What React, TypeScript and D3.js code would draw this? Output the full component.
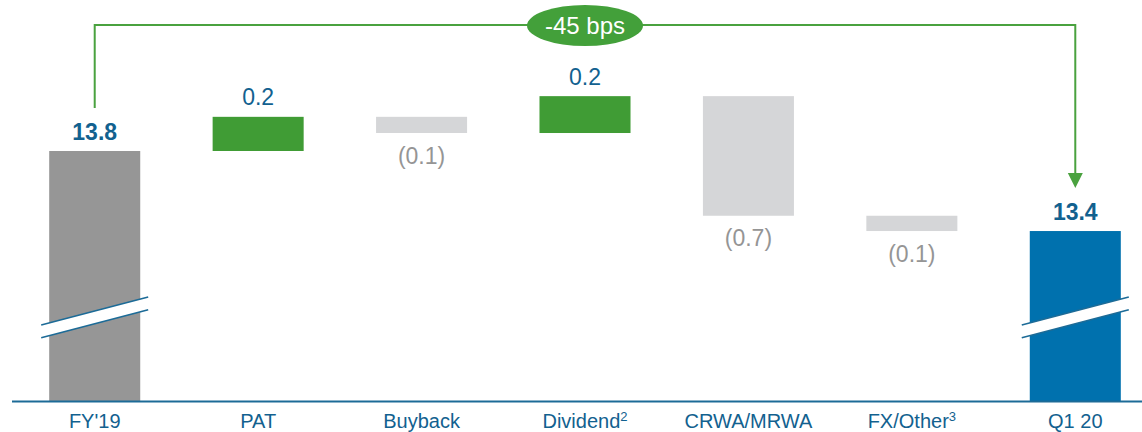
import React from 'react';
import * as d3 from 'd3';

// categories along the x axis (superscript footnote marks kept apart)
const categories = ["FY'19", 'PAT', 'Buyback', 'Dividend', 'CRWA/MRWA', 'FX/Other', 'Q1 20'];
const footnotes = ['', '', '', '2', '', '3', ''];

// CET1 ratio (%) start / end, and the movements in between
const startValue = 13.83;
const endValue = 13.385;
const deltas = [0.19, -0.09, 0.205, -0.665, -0.085];
const valueLabels = ['13.8', '0.2', '(0.1)', '0.2', '(0.7)', '(0.1)', '13.4'];
const changeLabel = '-45 bps';

// visible part of the (broken) y axis
const axisFloor = 12.44;
const breakValue = 12.94;

const W = 1142;
const H = 432;

const BLUE_TEXT = '#12618f';
const AXIS = '#1c6b97';

const App = () => {
  const x = d3
    .scaleBand()
    .domain(categories)
    .range([13, 1157])
    .paddingInner(0.443)
    .paddingOuter(0.2215);

  const y = d3.scaleLinear().domain([axisFloor, startValue]).range([401, 151]);
  const bw = x.bandwidth();

  // build waterfall segments
  const bars = [];
  bars.push({ cat: categories[0], y0: axisFloor, y1: startValue, kind: 'start' });
  let run = startValue;
  deltas.forEach((d, i) => {
    bars.push({ cat: categories[i + 1], y0: run, y1: run + d, kind: d >= 0 ? 'up' : 'down' });
    run += d;
  });
  bars.push({ cat: categories[6], y0: axisFloor, y1: endValue, kind: 'end' });

  const fill = { start: '#969696', up: '#409c35', down: '#d5d6d8', end: '#0071ae' };

  const cx = (c) => x(c) + bw / 2;
  const xs = cx(categories[0]);
  const xe = cx(categories[6]);
  const bracketY = 25;
  const arrowTip = y(endValue) - 43;

  // break marks on the two total bars
  const breakMark = (c) => {
    const c0 = cx(c);
    const yb = y(breakValue);
    const half = 53.5;
    const rise = 14;
    const gap = 12.7;
    const x1 = c0 - half;
    const x2 = c0 + half;
    const p = `M${x1},${yb + rise} L${x2},${yb - rise} L${x2},${yb - rise + gap} L${x1},${yb + rise + gap} Z`;
    return (
      <g key={'brk' + c}>
        <path d={p} fill="#fff" />
        <line x1={x1} y1={yb + rise} x2={x2} y2={yb - rise} stroke={AXIS} strokeWidth={1.6} />
        <line x1={x1} y1={yb + rise + gap} x2={x2} y2={yb - rise + gap} stroke={AXIS} strokeWidth={1.6} />
      </g>
    );
  };

  return (
    <svg
      width={W}
      height={H}
      style={{ position: 'absolute', left: 0, top: 0, fontFamily: 'Liberation Sans, Arial, sans-serif' }}
    >
      {/* bars */}
      {bars.map((b, i) => {
        const top = y(Math.max(b.y0, b.y1));
        const bot = y(Math.min(b.y0, b.y1));
        return <rect key={i} x={x(b.cat)} y={top} width={bw} height={bot - top} fill={fill[b.kind]} />;
      })}

      {breakMark(categories[0])}
      {breakMark(categories[6])}

      {/* value labels */}
      {bars.map((b, i) => {
        const total = b.kind === 'start' || b.kind === 'end';
        const neg = b.kind === 'down';
        const ty = neg ? y(Math.min(b.y0, b.y1)) + 30.7 : y(Math.max(b.y0, b.y1)) - 11.5;
        return (
          <text
            key={'l' + i}
            x={cx(b.cat)}
            y={ty}
            textAnchor="middle"
            fontSize={23}
            fontWeight={total ? 'bold' : 'normal'}
            fill={neg ? '#959595' : BLUE_TEXT}
          >
            {valueLabels[i]}
          </text>
        );
      })}

      {/* x axis */}
      <line x1={12} x2={W} y1={401.5} y2={401.5} stroke={AXIS} strokeWidth={1.8} />
      {categories.map((c, i) => (
        <text key={'c' + i} x={cx(c)} y={428} textAnchor="middle" fontSize={20} fill={BLUE_TEXT}>
          {c}
          {footnotes[i] && (
            <tspan fontSize={13} dy={-7}>
              {footnotes[i]}
            </tspan>
          )}
        </text>
      ))}

      {/* change bracket */}
      <path
        d={`M${xs},${y(startValue) - 43} V${bracketY} H${xe} V${arrowTip - 14}`}
        fill="none"
        stroke="#4aa23f"
        strokeWidth={2}
      />
      <path
        d={`M${xe - 7.5},${arrowTip - 15} L${xe + 7.5},${arrowTip - 15} L${xe},${arrowTip} Z`}
        fill="#4aa23f"
      />
      <ellipse cx={(xs + xe) / 2} cy={bracketY + 0.5} rx={58} ry={20.5} fill="#43a03a" />
      <text x={(xs + xe) / 2} y={bracketY + 9} textAnchor="middle" fontSize={24} fill="#fff">
        {changeLabel}
      </text>
    </svg>
  );
};

export default App;
